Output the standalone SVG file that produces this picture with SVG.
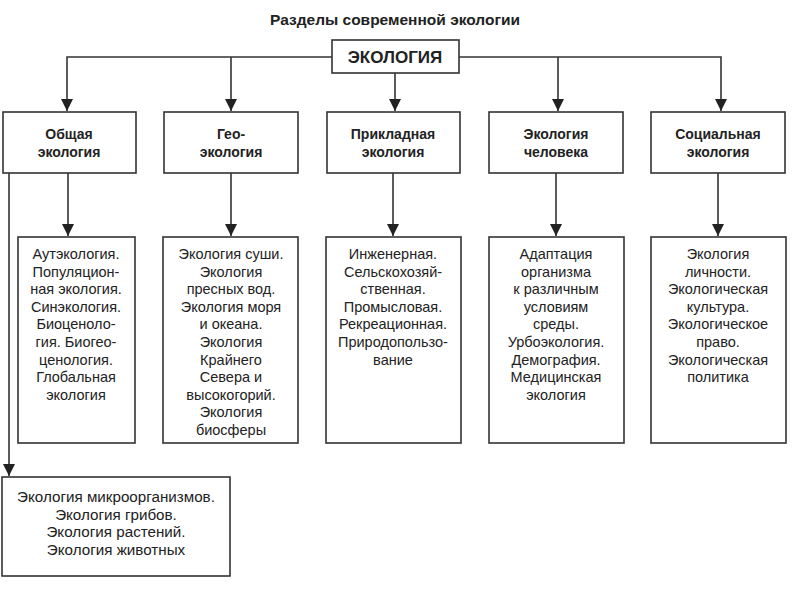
<svg xmlns="http://www.w3.org/2000/svg" width="800" height="600" viewBox="0 0 800 600">
<defs>
<style>
.box{fill:#fff;stroke:#333;stroke-width:1.6}
.ln{fill:none;stroke:#333;stroke-width:1.6}
.t{font-family:"Liberation Sans",Arial,sans-serif;font-size:14.5px;fill:#222;text-anchor:middle}
.b{font-family:"Liberation Sans",Arial,sans-serif;font-size:14px;font-weight:bold;fill:#222;text-anchor:middle}
.title{font-size:15.5px}
.big{font-size:17px}
.wide{font-size:15.2px}
</style>
<marker id="ah" viewBox="0 0 12 12" refX="12" refY="6" markerWidth="13" markerHeight="12" markerUnits="userSpaceOnUse" orient="auto">
<path d="M0,0 L12,6 L0,12 Z" fill="#222"/>
</marker>
</defs>
<rect width="800" height="600" fill="#fff"/>
<text class="b title" x="395" y="25">Разделы современной экологии</text>
<g id="connectors">
<path class="ln" d="M332,57 H67 V111" marker-end="url(#ah)"/>
<path class="ln" d="M231,57 V111" marker-end="url(#ah)"/>
<path class="ln" d="M459,57 H721 V111" marker-end="url(#ah)"/>
<path class="ln" d="M558,57 V111" marker-end="url(#ah)"/>
<path class="ln" d="M395,73 V111" marker-end="url(#ah)"/>
<path class="ln" d="M68,173 V236" marker-end="url(#ah)"/>
<path class="ln" d="M231,173 V236" marker-end="url(#ah)"/>
<path class="ln" d="M393,173 V236" marker-end="url(#ah)"/>
<path class="ln" d="M556,173 V236" marker-end="url(#ah)"/>
<path class="ln" d="M718,173 V236" marker-end="url(#ah)"/>
<path class="ln" d="M9,173 V476" marker-end="url(#ah)"/>
</g>
<g id="n-ecology">
<rect class="box" x="332" y="40" width="127" height="33"/>
<text class="b big" x="395" y="62.5">ЭКОЛОГИЯ</text>
</g>
<g id="n-general">
<rect class="box" x="3" y="112" width="133" height="61"/>
<text class="b" x="69" y="139">Общая</text>
<text class="b" x="69" y="157">экология</text>
</g>
<g id="n-geo">
<rect class="box" x="164" y="112" width="134" height="61"/>
<text class="b" x="231" y="139">Гео-</text>
<text class="b" x="231" y="157">экология</text>
</g>
<g id="n-applied">
<rect class="box" x="327" y="112" width="133" height="61"/>
<text class="b" x="393" y="139">Прикладная</text>
<text class="b" x="393" y="157">экология</text>
</g>
<g id="n-human">
<rect class="box" x="489" y="112" width="134" height="61"/>
<text class="b" x="556" y="139">Экология</text>
<text class="b" x="556" y="157">человека</text>
</g>
<g id="n-social">
<rect class="box" x="651" y="112" width="134" height="61"/>
<text class="b" x="718" y="139">Социальная</text>
<text class="b" x="718" y="157">экология</text>
</g>
<g id="n-general-list">
<rect class="box" x="18" y="237" width="117" height="206"/>
<text class="t" x="76" y="259">Аутэкология.<tspan x="76" dy="17.6">Популяцион-</tspan><tspan x="76" dy="17.6">ная экология.</tspan><tspan x="76" dy="17.6">Синэкология.</tspan><tspan x="76" dy="17.6">Биоценоло-</tspan><tspan x="76" dy="17.6">гия. Биогео-</tspan><tspan x="76" dy="17.6">ценология.</tspan><tspan x="76" dy="17.6">Глобальная</tspan><tspan x="76" dy="17.6">экология</tspan></text>
</g>
<g id="n-geo-list">
<rect class="box" x="163" y="237" width="135" height="206"/>
<text class="t" x="231" y="259">Экология суши.<tspan x="231" dy="17.6">Экология</tspan><tspan x="231" dy="17.6">пресных вод.</tspan><tspan x="231" dy="17.6">Экология моря</tspan><tspan x="231" dy="17.6">и океана.</tspan><tspan x="231" dy="17.6">Экология</tspan><tspan x="231" dy="17.6">Крайнего</tspan><tspan x="231" dy="17.6">Севера и</tspan><tspan x="231" dy="17.6">высокогорий.</tspan><tspan x="231" dy="17.6">Экология</tspan><tspan x="231" dy="17.6">биосферы</tspan></text>
</g>
<g id="n-applied-list">
<rect class="box" x="326" y="237" width="135" height="206"/>
<text class="t" x="393" y="259">Инженерная.<tspan x="393" dy="17.6">Сельскохозяй-</tspan><tspan x="393" dy="17.6">ственная.</tspan><tspan x="393" dy="17.6">Промысловая.</tspan><tspan x="393" dy="17.6">Рекреационная.</tspan><tspan x="393" dy="17.6">Природопользо-</tspan><tspan x="393" dy="17.6">вание</tspan></text>
</g>
<g id="n-human-list">
<rect class="box" x="489" y="237" width="135" height="206"/>
<text class="t" x="556" y="259">Адаптация<tspan x="556" dy="17.6">организма</tspan><tspan x="556" dy="17.6">к различным</tspan><tspan x="556" dy="17.6">условиям</tspan><tspan x="556" dy="17.6">среды.</tspan><tspan x="556" dy="17.6">Урбоэкология.</tspan><tspan x="556" dy="17.6">Демография.</tspan><tspan x="556" dy="17.6">Медицинская</tspan><tspan x="556" dy="17.6">экология</tspan></text>
</g>
<g id="n-social-list">
<rect class="box" x="651" y="237" width="135" height="206"/>
<text class="t" x="718" y="259">Экология<tspan x="718" dy="17.6">личности.</tspan><tspan x="718" dy="17.6">Экологическая</tspan><tspan x="718" dy="17.6">культура.</tspan><tspan x="718" dy="17.6">Экологическое</tspan><tspan x="718" dy="17.6">право.</tspan><tspan x="718" dy="17.6">Экологическая</tspan><tspan x="718" dy="17.6">политика</tspan></text>
</g>
<g id="n-organisms">
<rect class="box" x="2" y="477" width="228" height="99"/>
<text class="t wide" x="116" y="502">Экология микроорганизмов.<tspan x="116" dy="17.6">Экология грибов.</tspan><tspan x="116" dy="17.6">Экология растений.</tspan><tspan x="116" dy="17.6">Экология животных</tspan></text>
</g>
</svg>
